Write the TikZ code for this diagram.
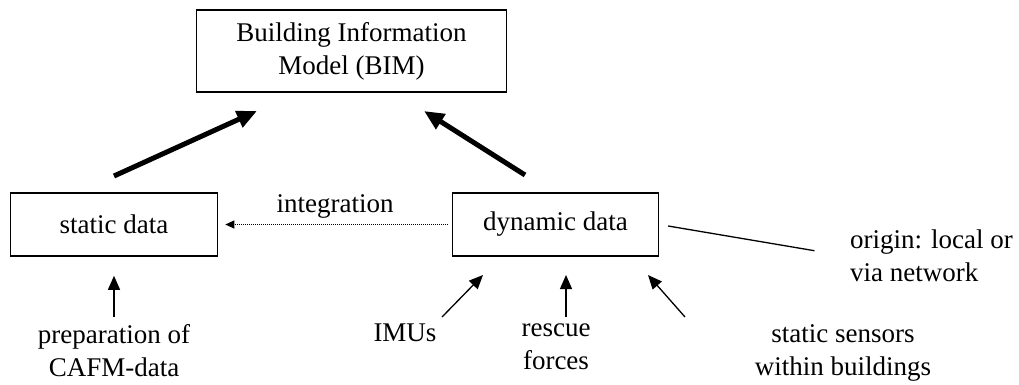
\documentclass[tikz,border=0pt]{standalone}
\usepackage{fontspec}
\setmainfont{Liberation Serif}
\usetikzlibrary{arrows.meta}
\begin{document}
\begin{tikzpicture}[x=1pt,y=-1pt,
  font=\fontsize{27}{33}\selectfont,
  box/.style={draw, line width=1.6pt, align=center, inner sep=0pt},
  txt/.style={align=center, inner sep=3pt},
  feed/.style={-{Triangle[length=14pt,width=12pt]}, line width=1.3pt},
  bold/.style={-{Triangle[length=20pt,width=17pt]}, line width=5pt}]
\useasboundingbox (0,0) rectangle (1019,384);
\node[box, minimum width=310pt, minimum height=82pt] (bim) at (351.5,51) {Building Information\\Model (BIM)};
\node[box, minimum width=207pt, minimum height=63pt] (static) at (114,224.5) {static data};
\node[box, minimum width=206pt, minimum height=63pt] (dynamic) at (555.5,224.5) {dynamic data};
\node[txt, anchor=north west, align=left] (origin) at (847,227) {origin: local or\\via network};
\node[txt, anchor=north] (prep) at (114,321) {preparation of\\CAFM-data};
\node[txt, anchor=north] (imus) at (405,321) {IMUs};
\node[txt, anchor=north] (rescue) at (556,321) {rescue\\forces};
\node[txt, anchor=north] (sensors) at (843,321) {static sensors\\within buildings};
\coordinate (static top) at (114,176);
\coordinate (bim left) at (257,111);
\coordinate (dynamic top) at (525,175);
\coordinate (bim right) at (424,111);
\coordinate (imus tail) at (442,317);
\coordinate (imus tip) at (483,275);
\coordinate (rescue tail) at (566,317);
\coordinate (rescue tip) at (566,275);
\coordinate (sensors tail) at (685,317);
\coordinate (sensors tip) at (648,275);
\draw[bold] (static top) -- (bim left);
\draw[bold] (dynamic top) -- (bim right);
\draw[-{Triangle[length=9pt,width=8pt]}, line width=1pt, densely dotted, shorten <=4pt, shorten >=7pt] (dynamic.west) -- node[txt, above=3pt] (integ) {integration} (static.east);
\draw[line width=1.3pt, shorten <=9pt, shorten >=33pt] (dynamic.east) -- (origin.west);
\draw[feed, shorten <=4pt, shorten >=19pt] (prep.north) -- (static.south);
\draw[feed] (imus tail) -- (imus tip);
\draw[feed] (rescue tail) -- (rescue tip);
\draw[feed] (sensors tail) -- (sensors tip);
\end{tikzpicture}
\end{document}
